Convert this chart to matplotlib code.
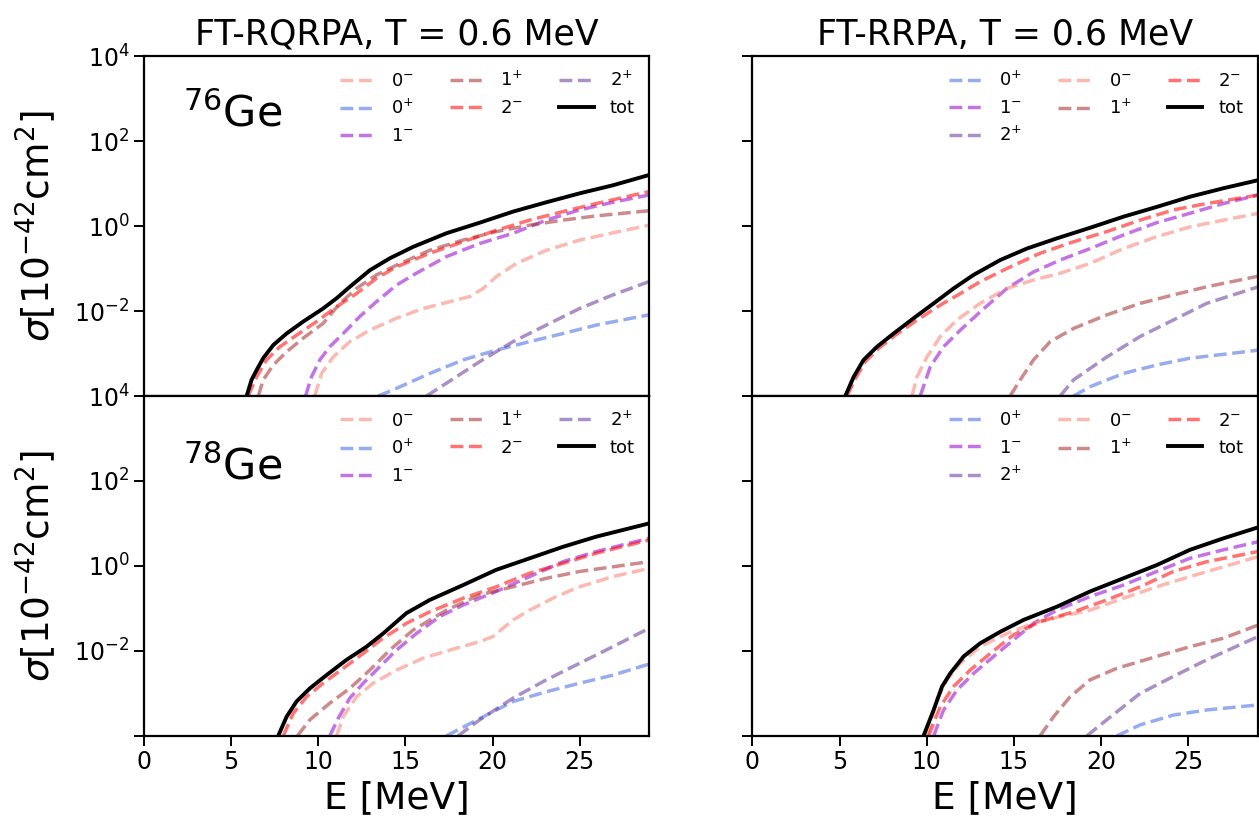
#!/usr/bin/env python3
"""
Neutrino-nucleus cross sections for 76Ge and 78Ge, FT-RQRPA vs FT-RRPA at T = 0.6 MeV.
Values read off the reference figure, stored as log10(sigma / 1e-42 cm^2).
"""

import numpy as np
import matplotlib.pyplot as plt

# ---------------- data: (E [MeV], log10 sigma) per multipole ----------------
# 76Ge, FT-RQRPA (top left)
ge76_qrpa = {
    "0m": ([9.80, 10.19, 10.86, 11.81, 12.96, 14.49, 16.02, 17.55, 18.69, 19.46, 20.22,
            21.37, 23.09, 25.00, 26.91, 28.97],
           [-4.0, -3.47, -3.08, -2.72, -2.45, -2.17, -1.94, -1.78, -1.66, -1.47, -1.19,
            -0.88, -0.57, -0.33, -0.16, 0.02]),
    "0p": ([13.44, 14.49, 16.40, 18.31, 20.22, 22.13, 24.04, 25.96, 28.97],
           [-4.0, -3.82, -3.47, -3.15, -2.92, -2.72, -2.53, -2.33, -2.09]),
    "1m": ([9.27, 9.61, 10.09, 10.66, 11.43, 12.38, 13.34, 14.49, 15.63, 17.35, 19.27,
            21.18, 23.09, 25.00, 26.91, 28.97],
           [-4.0, -3.55, -3.15, -2.84, -2.53, -2.13, -1.78, -1.39, -1.11, -0.72, -0.41,
            -0.17, 0.14, 0.38, 0.56, 0.73]),
    "1p": ([6.56, 6.84, 7.42, 8.18, 9.13, 10.28, 11.24, 12.19, 13.34, 14.49, 16.40,
            18.31, 20.22, 22.13, 24.04, 25.96, 28.97],
           [-4.0, -3.62, -3.27, -2.96, -2.64, -2.29, -1.82, -1.47, -1.15, -0.92, -0.57,
            -0.33, -0.13, 0.02, 0.14, 0.24, 0.36]),
    "2m": ([5.98, 6.46, 7.03, 7.80, 8.75, 9.90, 11.05, 12.19, 13.34, 14.49, 16.40,
            18.31, 20.22, 22.13, 24.04, 25.96, 28.97],
           [-4.0, -3.55, -3.15, -2.84, -2.57, -2.25, -1.90, -1.59, -1.23, -0.96, -0.64,
            -0.37, -0.10, 0.14, 0.34, 0.53, 0.81]),
    "2p": ([16.21, 17.35, 19.27, 21.18, 23.09, 25.00, 26.91, 28.97],
           [-4.0, -3.70, -3.19, -2.72, -2.33, -1.94, -1.62, -1.31]),
    "tot": ([5.89, 6.17, 6.46, 6.84, 7.42, 8.18, 9.13, 10.28, 11.05, 11.81, 12.96,
             14.10, 15.44, 17.35, 19.27, 21.18, 23.09, 25.00, 26.91, 28.97],
            [-4.0, -3.62, -3.39, -3.11, -2.80, -2.53, -2.25, -1.94, -1.70, -1.43, -1.04,
             -0.76, -0.49, -0.17, 0.08, 0.34, 0.56, 0.77, 0.96, 1.20]),
}

# 76Ge, FT-RRPA (top right)
ge76_rpa = {
    "0p": ([18.43, 19.38, 21.29, 23.20, 25.11, 27.03, 29.03],
           [-4.0, -3.78, -3.47, -3.27, -3.11, -3.02, -2.92]),
    "1m": ([9.63, 10.21, 10.97, 11.93, 13.07, 14.60, 16.13, 17.66, 19.38, 21.29, 23.20,
            25.11, 27.03, 29.03],
           [-4.0, -3.31, -2.84, -2.45, -2.02, -1.47, -1.08, -0.80, -0.53, -0.21, 0.08,
            0.30, 0.53, 0.73]),
    "2p": ([17.66, 18.43, 20.34, 22.25, 24.16, 26.07, 29.03],
           [-4.0, -3.62, -3.08, -2.60, -2.21, -1.82, -1.43]),
    "0m": ([9.16, 9.44, 10.02, 10.78, 11.74, 13.07, 14.60, 16.13, 17.66, 19.38, 21.29,
            23.20, 25.11, 27.03, 29.03],
           [-4.0, -3.55, -3.08, -2.60, -2.21, -1.82, -1.47, -1.27, -1.11, -0.88, -0.53,
            -0.25, -0.02, 0.14, 0.30]),
    "1p": ([14.79, 15.37, 16.13, 17.09, 18.43, 20.34, 22.25, 24.16, 26.07, 29.03],
           [-4.0, -3.62, -3.15, -2.72, -2.41, -2.09, -1.82, -1.62, -1.43, -1.18]),
    "2m": ([5.43, 5.91, 6.48, 7.24, 8.20, 9.35, 10.78, 11.93, 13.07, 14.60, 16.51,
            18.43, 20.34, 22.25, 24.16, 26.07, 29.03],
           [-4.0, -3.59, -3.19, -2.88, -2.57, -2.24, -1.86, -1.59, -1.31, -1.00, -0.64,
            -0.37, -0.13, 0.14, 0.38, 0.53, 0.73]),
    "tot": ([5.33, 5.81, 6.38, 7.15, 8.10, 9.25, 10.40, 11.54, 12.69, 14.22, 15.75,
             17.47, 19.38, 21.29, 23.20, 25.11, 27.03, 29.03],
            [-4.0, -3.55, -3.15, -2.84, -2.53, -2.17, -1.82, -1.47, -1.15, -0.80, -0.53,
             -0.29, -0.04, 0.22, 0.45, 0.69, 0.89, 1.08]),
}

# 78Ge, FT-RQRPA (bottom left)
ge78_qrpa = {
    "0m": ([11.05, 11.43, 12.19, 13.15, 14.49, 16.02, 17.55, 19.27, 20.03, 21.18, 22.13,
            23.66, 25.00, 26.91, 28.97],
           [-4.0, -3.55, -3.08, -2.76, -2.45, -2.17, -1.98, -1.78, -1.66, -1.27, -1.04,
            -0.72, -0.49, -0.25, -0.06]),
    "0p": ([17.35, 19.27, 21.18, 23.09, 25.00, 26.91, 28.97],
           [-4.0, -3.59, -3.19, -2.96, -2.76, -2.57, -2.31]),
    "1m": ([10.66, 11.14, 11.81, 12.58, 13.53, 14.49, 15.63, 16.97, 18.31, 20.22, 22.13,
            24.04, 25.96, 28.97],
           [-4.0, -3.59, -3.11, -2.76, -2.37, -1.98, -1.59, -1.19, -0.92, -0.60, -0.25,
            0.10, 0.34, 0.65]),
    "1p": ([8.80, 9.52, 10.66, 11.81, 12.96, 14.10, 15.44, 17.35, 19.27, 21.18, 23.09,
            25.00, 26.91, 28.97],
           [-4.0, -3.62, -3.23, -2.88, -2.45, -1.98, -1.51, -1.04, -0.68, -0.49, -0.29,
            -0.13, -0.02, 0.10]),
    "2m": ([7.99, 8.56, 9.33, 10.28, 11.43, 12.58, 13.72, 15.06, 16.40, 18.31, 20.22,
            22.13, 24.04, 25.96, 28.97],
           [-4.0, -3.47, -3.08, -2.76, -2.41, -2.06, -1.70, -1.35, -1.08, -0.76, -0.49,
            -0.17, 0.06, 0.30, 0.61]),
    "2p": ([18.02, 19.27, 21.18, 23.09, 25.00, 26.91, 28.97],
           [-4.0, -3.62, -3.11, -2.68, -2.29, -1.90, -1.47]),
    "tot": ([7.70, 8.18, 8.75, 9.52, 10.47, 11.62, 12.77, 13.72, 15.06, 16.40, 18.31,
             20.22, 22.13, 24.04, 25.96, 28.97],
            [-4.0, -3.55, -3.19, -2.88, -2.57, -2.21, -1.90, -1.59, -1.11, -0.80, -0.45,
             -0.09, 0.18, 0.45, 0.69, 1.00]),
}

# 78Ge, FT-RRPA (bottom right)
ge78_rpa = {
    "0p": ([20.91, 22.25, 24.16, 26.07, 29.03],
           [-4.0, -3.74, -3.51, -3.39, -3.27]),
    "1m": ([10.40, 10.97, 11.74, 12.69, 13.84, 14.99, 16.13, 17.47, 19.38, 21.29, 23.20,
            25.11, 27.03, 29.03],
           [-4.0, -3.39, -2.92, -2.53, -2.13, -1.74, -1.35, -1.04, -0.72, -0.45, -0.13,
            0.18, 0.38, 0.57]),
    "2p": ([19.19, 20.34, 22.25, 24.16, 26.07, 29.03],
           [-4.0, -3.62, -3.00, -2.60, -2.21, -1.66]),
    "0m": ([10.02, 10.59, 11.16, 11.93, 13.07, 14.60, 16.13, 17.66, 19.38, 21.29, 23.20,
            25.11, 27.03, 29.03],
           [-4.0, -3.15, -2.68, -2.29, -1.90, -1.59, -1.35, -1.19, -1.04, -0.76, -0.49,
            -0.25, -0.02, 0.22]),
    "1p": ([16.51, 17.28, 18.23, 19.38, 20.91, 23.20, 25.11, 27.03, 29.03],
           [-4.0, -3.55, -3.08, -2.68, -2.41, -2.13, -1.90, -1.70, -1.39]),
    "2m": ([10.11, 10.78, 11.54, 12.50, 13.65, 14.99, 16.51, 18.43, 20.34, 22.25, 24.16,
            26.07, 29.03],
           [-4.0, -3.31, -2.84, -2.45, -2.06, -1.62, -1.31, -1.08, -0.80, -0.49, -0.13,
            0.10, 0.34]),
    "tot": ([9.82, 10.40, 10.88, 11.35, 12.12, 13.07, 14.22, 15.56, 17.47, 19.38, 21.29,
             23.20, 25.11, 27.03, 29.03],
            [-4.0, -3.39, -2.84, -2.53, -2.13, -1.82, -1.55, -1.27, -0.96, -0.60, -0.29,
             0.02, 0.38, 0.65, 0.91]),
}

labels = {"0m": r"$0^{-}$", "0p": r"$0^{+}$", "1m": r"$1^{-}$", "1p": r"$1^{+}$",
          "2m": r"$2^{-}$", "2p": r"$2^{+}$", "tot": "tot"}
colors = {"0m": "salmon", "0p": "royalblue", "1m": "darkviolet", "1p": "brown",
          "2m": "red", "2p": "rebeccapurple", "tot": "black"}

order_qrpa = ["0m", "0p", "1m", "1p", "2m", "2p", "tot"]
order_rpa = ["0p", "1m", "2p", "0m", "1p", "2m", "tot"]

x_ticks = [0, 5, 10, 15, 20, 25]
y_ticks = [1e-4, 1e-2, 1e0, 1e2, 1e4]
y_ticklabels = ["", r"$10^{-2}$", r"$10^{0}$", r"$10^{2}$", r"$10^{4}$"]


def draw_panel(ax, data, order):
    for key in order:
        e, logs = data[key]
        s = 10.0 ** np.array(logs)
        if key == "tot":
            ax.plot(e, s, color="black", lw=2.8, label=labels[key])
        else:
            ax.plot(e, s, color=colors[key], lw=2.5, ls="--",
                    alpha=0.55, label=labels[key])
    ax.set_yscale("log")
    ax.set_xlim(0, 29)
    ax.set_ylim(1e-4, 1e4)
    ax.set_yticks(y_ticks)
    ax.yaxis.set_minor_locator(plt.NullLocator())
    ax.set_xticks(x_ticks)
    ax.tick_params(labelsize=17, length=7, width=1.4)
    for sp in ax.spines.values():
        sp.set_linewidth(1.6)
    ax.legend(ncol=3, frameon=False, loc="upper right", fontsize=13,
              handlelength=1.9, handletextpad=0.9, columnspacing=2.0,
              borderaxespad=0.4, labelspacing=0.5)


fig, axes = plt.subplots(2, 2, figsize=(12.59, 8.25), dpi=100, sharex=True)
fig.subplots_adjust(left=0.1144, right=0.999, top=0.932, bottom=0.108,
                    hspace=0.0, wspace=0.204)

draw_panel(axes[0, 0], ge76_qrpa, order_qrpa)
draw_panel(axes[0, 1], ge76_rpa, order_rpa)
draw_panel(axes[1, 0], ge78_qrpa, order_qrpa)
draw_panel(axes[1, 1], ge78_rpa, order_rpa)

for ax in axes[:, 0]:
    ax.set_yticklabels(y_ticklabels)
    ax.set_ylabel(r"$\sigma[10^{-42}\mathrm{cm}^2]$", fontsize=27, labelpad=12)
for ax in axes[:, 1]:
    ax.set_yticklabels([])
for ax in axes[1, :]:
    ax.set_xlabel("E [MeV]", fontsize=27)
    ax.set_xticklabels([str(t) for t in x_ticks])

axes[0, 0].set_title("FT-RQRPA, T = 0.6 MeV", fontsize=25, pad=8)
axes[0, 1].set_title("FT-RRPA, T = 0.6 MeV", fontsize=25, pad=8)

axes[0, 0].text(0.077, 0.794, r"$^{76}$Ge", transform=axes[0, 0].transAxes,
                fontsize=31, va="baseline")
axes[1, 0].text(0.077, 0.753, r"$^{78}$Ge", transform=axes[1, 0].transAxes,
                fontsize=31, va="baseline")

plt.savefig("out.png", dpi=100)
